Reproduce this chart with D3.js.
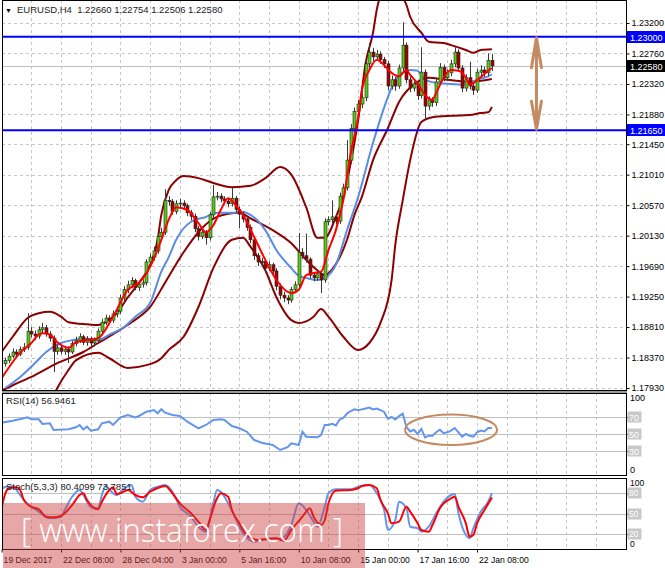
<!DOCTYPE html>
<html><head><meta charset="utf-8">
<script src="https://cdn.jsdelivr.net/npm/d3@7"></script>
<style>
html,body{margin:0;padding:0;background:#fff;}
svg{display:block;font-family:"Liberation Sans",Arial,sans-serif;}
</style></head><body>
<svg id="c" width="665" height="568"></svg>
<script>
// ---------- DATA ----------
const symbolTitle = "EURUSD,H4  1.22660 1.22754 1.22506 1.22580";
const rsiTitle = "RSI(14) 56.9461";
const stochTitle = "Stoch(5,3,3) 80.4099 73.7851";
const firstBar = 1; // candles occupy bar slots 1..132
const opens = [1.1828,1.1833,1.1839,1.1845,1.1842,1.1849,1.1852,1.1875,1.1871,1.1868,
1.1877,1.1880,1.1871,1.1865,1.1846,1.1851,1.1846,1.1849,1.1845,1.1857,
1.1862,1.1867,1.1859,1.1864,1.1858,1.1862,1.1875,1.1888,1.1894,1.1891,
1.1900,1.1904,1.1923,1.1935,1.1942,1.1948,1.1938,1.1943,1.1945,1.1975,
1.1982,1.1991,1.2012,1.2018,1.2064,1.2062,1.2048,1.2059,1.2060,1.2056,
1.2046,1.2041,1.2023,1.2012,1.2018,1.2010,1.2043,1.2069,1.2070,1.2066,
1.2063,1.2059,1.2067,1.2051,1.2044,1.2037,1.2025,1.2007,1.1984,1.1975,
1.1976,1.1966,1.1971,1.1962,1.1940,1.1927,1.1923,1.1920,1.1935,1.1942,
1.1989,1.1984,1.1979,1.1956,1.1952,1.1958,1.1949,1.2033,1.2036,1.2040,
1.2034,1.2070,1.2082,1.2122,1.2168,1.2192,1.2203,1.2212,1.2261,1.2278,
1.2271,1.2275,1.2267,1.2261,1.2229,1.2238,1.2229,1.2255,1.2288,1.2238,
1.2226,1.2232,1.2215,1.2249,1.2200,1.2209,1.2205,1.2235,1.2256,1.2241,
1.2248,1.2261,1.2278,1.2255,1.2226,1.2241,1.2229,1.2223,1.2249,1.2252,
1.2248,1.2266];
const highs = [1.1837,1.1843,1.1850,1.1849,1.1853,1.1858,1.1901,1.1881,1.1876,1.1882,
1.1887,1.1884,1.1875,1.1869,1.1856,1.1855,1.1854,1.1853,1.1861,1.1867,
1.1872,1.1870,1.1868,1.1867,1.1866,1.1879,1.1893,1.1899,1.1898,1.1905,
1.1909,1.1928,1.1940,1.1948,1.1953,1.1951,1.1947,1.1950,1.1979,1.1987,
1.1997,1.2017,1.2024,1.2080,1.2070,1.2066,1.2064,1.2066,1.2064,1.2059,
1.2050,1.2045,1.2027,1.2023,1.2021,1.2047,1.2086,1.2076,1.2074,1.2070,
1.2067,1.2082,1.2070,1.2055,1.2048,1.2041,1.2029,1.2011,1.1988,1.1981,
1.1979,1.1976,1.1974,1.1966,1.1944,1.1932,1.1927,1.1939,1.1947,1.2017,
1.1995,1.2016,1.1982,1.1960,1.1963,1.1961,1.2038,1.2041,1.2064,1.2045,
1.2075,1.2088,1.2151,1.2174,1.2198,1.2209,1.2218,1.2266,1.2291,1.2284,
1.2281,1.2279,1.2271,1.2265,1.2244,1.2242,1.2260,1.2321,1.2292,1.2243,
1.2238,1.2236,1.2285,1.2253,1.2214,1.2213,1.2240,1.2262,1.2260,1.2253,
1.2267,1.2285,1.2282,1.2259,1.2246,1.2264,1.2233,1.2254,1.2259,1.2257,
1.2276,1.22754];
const lows = [1.1824,1.1829,1.1836,1.1837,1.1839,1.1845,1.1848,1.1866,1.1862,1.1864,
1.1872,1.1867,1.1860,1.1816,1.1841,1.1842,1.1841,1.1829,1.1842,1.1853,
1.1858,1.1855,1.1854,1.1853,1.1853,1.1859,1.1871,1.1884,1.1886,1.1887,
1.1895,1.1900,1.1919,1.1930,1.1937,1.1934,1.1933,1.1938,1.1941,1.1970,
1.1977,1.1987,1.2007,1.2014,1.2056,1.2043,1.2044,1.2054,1.2051,1.2041,
1.2035,1.2018,1.2006,1.2008,1.2000,1.2006,1.2039,1.2064,1.2061,1.2058,
1.2054,1.2055,1.2046,1.2024,1.2032,1.2020,1.2002,1.1978,1.1969,1.1969,
1.1961,1.1962,1.1957,1.1934,1.1921,1.1917,1.1914,1.1916,1.1930,1.1938,
1.1979,1.1974,1.1951,1.1947,1.1948,1.1930,1.1945,1.2028,1.2031,1.2029,
1.2030,1.2065,1.2078,1.2117,1.2162,1.2186,1.2197,1.2207,1.2255,1.2265,
1.2266,1.2261,1.2255,1.2223,1.2224,1.2222,1.2225,1.2250,1.2233,1.2220,
1.2221,1.2209,1.2211,1.2180,1.2194,1.2199,1.2200,1.2230,1.2236,1.2236,
1.2243,1.2256,1.2250,1.2220,1.2221,1.2224,1.2216,1.2219,1.2243,1.2242,
1.2243,1.22506];
const closes = [1.1833,1.1839,1.1845,1.1842,1.1849,1.1852,1.1875,1.1871,1.1868,1.1877,
1.1880,1.1871,1.1865,1.1846,1.1851,1.1846,1.1849,1.1845,1.1857,1.1862,
1.1867,1.1859,1.1864,1.1858,1.1862,1.1875,1.1888,1.1894,1.1891,1.1900,
1.1904,1.1923,1.1935,1.1942,1.1948,1.1938,1.1943,1.1945,1.1975,1.1982,
1.1991,1.2012,1.2018,1.2064,1.2062,1.2048,1.2059,1.2060,1.2056,1.2046,
1.2041,1.2023,1.2012,1.2018,1.2010,1.2043,1.2069,1.2070,1.2066,1.2063,
1.2059,1.2067,1.2051,1.2044,1.2037,1.2025,1.2007,1.1984,1.1975,1.1976,
1.1966,1.1971,1.1962,1.1940,1.1927,1.1923,1.1920,1.1935,1.1942,1.1989,
1.1984,1.1979,1.1956,1.1952,1.1958,1.1949,1.2033,1.2036,1.2040,1.2034,
1.2070,1.2082,1.2122,1.2168,1.2192,1.2203,1.2212,1.2261,1.2278,1.2271,
1.2275,1.2267,1.2261,1.2229,1.2238,1.2229,1.2255,1.2288,1.2238,1.2226,
1.2232,1.2215,1.2249,1.2200,1.2209,1.2205,1.2235,1.2256,1.2241,1.2248,
1.2261,1.2278,1.2255,1.2226,1.2241,1.2229,1.2223,1.2249,1.2252,1.2248,
1.2266,1.2258];

// indicator readings: [bar, value]
const fastMA = [[0,1.1807],[2,1.1823],[5,1.1844],[8,1.1858],[10,1.1870],[11,1.1872],[13,1.1870],[15,1.1859],[18,1.1851],[20,1.1859],[23,1.1862],[26,1.1865],[30,1.1896],[34,1.1935],[37,1.1945],[40,1.1968],[43,1.2007],[45,1.2036],[47,1.2054],[50,1.2050],[53,1.2031],[55,1.2018],[57,1.2028],[59,1.2050],[61,1.2067],[63,1.2057],[65,1.2043],[68,1.2011],[71,1.1978],[74,1.1949],[78,1.1930],[80,1.1935],[82,1.1956],[84,1.1959],[86,1.1961],[88,1.1992],[90,1.2021],[92,1.2064],[94,1.2132],[96,1.2184],[97,1.2223],[99,1.2252],[101,1.2267],[103,1.2259],[105,1.2248],[107,1.2243],[109,1.2252],[110,1.2245],[112,1.2233],[114,1.2216],[116,1.2209],[117,1.2219],[119,1.2241],[121,1.2252],[123,1.2251],[125,1.2241],[126,1.2231],[127,1.2233],[129,1.2242],[131,1.2251],[132,1.2255]];
const slowMA = [[1,1.1793],[5,1.1809],[9,1.1829],[12,1.1845],[16,1.1858],[19,1.1862],[23,1.1864],[26,1.1862],[29,1.1870],[33,1.1881],[36,1.1896],[40,1.1916],[43,1.1961],[45,1.1982],[47,1.2007],[51,1.2033],[55,1.2040],[58,1.2046],[62,1.2046],[65,1.2047],[67,1.2043],[71,1.2021],[74,1.1992],[78,1.1966],[80,1.1955],[82,1.1952],[85,1.1949],[87,1.1952],[90,1.1971],[93,1.2021],[96,1.2069],[100,1.2147],[104,1.2213],[106,1.2238],[110,1.2252],[112,1.2251],[114,1.2238],[118,1.2233],[121,1.2232],[124,1.2231],[126,1.2233],[128,1.2238],[131,1.2243],[132,1.2246]];
const bandUpper = [[0,1.1845],[3,1.1867],[7,1.1894],[10,1.1901],[13,1.1903],[16,1.1896],[18,1.1888],[23,1.1885],[26,1.1884],[28,1.1888],[31,1.1901],[34,1.1924],[37,1.1945],[40,1.1971],[42,1.2007],[43,1.2043],[45,1.2079],[47,1.2093],[49,1.2099],[53,1.2096],[57,1.2089],[62,1.2083],[67,1.2085],[71,1.2096],[75,1.2112],[78,1.2101],[82,1.2054],[85,1.2010],[87,1.2010],[90,1.2040],[92,1.2069],[94,1.2118],[96,1.2180],[98,1.2262],[100,1.2306],[101,1.2339],[103,1.2371],[105,1.2379],[107,1.2365],[109,1.2346],[110,1.2329],[113,1.2306],[115,1.2293],[119,1.2291],[121,1.2288],[125,1.2281],[127,1.2277],[129,1.2281],[132,1.2282]];
const bandMiddle = [[0,1.1789],[3,1.1797],[8,1.1809],[15,1.1829],[22,1.1845],[26,1.1858],[31,1.1874],[35,1.1888],[40,1.1910],[44,1.1945],[49,1.1989],[54,1.2024],[58,1.2040],[64,1.2046],[67,1.2038],[73,1.2021],[78,1.2002],[82,1.1978],[85,1.1963],[87,1.1956],[90,1.1972],[93,1.2007],[95,1.2043],[97,1.2069],[100,1.2122],[104,1.2168],[107,1.2206],[112,1.2235],[115,1.2241],[120,1.2238],[126,1.2235],[132,1.2239]];
const bandLower = [[12,1.1758],[15,1.1793],[18,1.1819],[20,1.1833],[26,1.1844],[29,1.1836],[34,1.1822],[39,1.1826],[43,1.1836],[45,1.1848],[49,1.1867],[53,1.1910],[57,1.1966],[62,1.2007],[65,1.2010],[67,1.1997],[71,1.1963],[74,1.1924],[78,1.1891],[80,1.1887],[84,1.1896],[86,1.1907],[88,1.1896],[92,1.1867],[96,1.1848],[99,1.1858],[102,1.1887],[105,1.1949],[106,1.2000],[108,1.2064],[110,1.2122],[113,1.2177],[116,1.2184],[121,1.2186],[126,1.2187],[129,1.2190],[131,1.2191],[132,1.2199]];
const rsi = [[0,63.3],[3,65.6],[6,68.5],[7,69.6],[8,67.3],[10,67.3],[11,61.8],[13,62.6],[14,54.7],[18,55.5],[20,57.9],[21,60.6],[22,55.5],[23,58.6],[24,53.9],[26,55.5],[27,62.6],[29,64.5],[30,60.6],[32,69.6],[34,72.4],[36,69.6],[37,71.2],[39,76.2],[41,78.2],[42,74.4],[43,79.1],[44,75.1],[46,72.4],[48,71.2],[50,64.5],[53,56.7],[55,60.6],[57,66.5],[59,67.3],[60,66.5],[62,59.4],[64,56.7],[66,52.7],[68,42.9],[70,39.8],[73,37.1],[75,31.2],[77,34.4],[78,39.1],[80,37.1],[81,52.7],[82,46.8],[85,46.1],[86,48.8],[87,60.6],[88,60.6],[89,62],[90,60],[91,67],[92,69],[93,74],[94,77],[95,79],[96,78],[97,79],[98,80],[99,81],[100,79],[101,80],[102,78],[103,76],[104,68],[105,70],[106,67],[107,71],[108,74],[109,58],[110,53],[111,55],[112,50],[113,56],[114,46],[115,48],[116,48],[117,52],[118,55],[119,51],[120,52],[121,54],[122,57],[123,52],[124,47],[125,50],[126,48],[127,47],[128,52],[129,54],[130,53],[131,57],[132,56.9461]];
const stochK = [[0,85],[1,89.8],[3,89.8],[5,77.6],[7,64.3],[8,60.3],[10,52.9],[13,43.2],[16,45.6],[17,55.5],[19,75.1],[21,85],[22,77.6],[24,60.3],[26,58],[27,77.6],[28,90.9],[30,80.1],[31,77.6],[33,87.5],[35,92.3],[36,75.1],[38,67.7],[40,85],[42,89.8],[44,92.3],[46,82.4],[48,60.3],[51,45.6],[53,30.8],[55,23.5],[57,65.3],[58,85],[59,82.4],[61,65.3],[63,43.2],[65,21.1],[68,8.7],[70,11.2],[73,13.7],[75,12.2],[78,33.3],[80,65.3],[82,55.5],[84,38.2],[85,30.8],[87,60.3],[88,80.1],[90,86],[94,86],[96,89.8],[99,92.3],[101,80.1],[103,55.5],[104,26],[106,40.7],[107,67.7],[109,58],[110,30.8],[112,28.5],[113,23.5],[115,30.8],[117,50.6],[119,67.7],[121,77.6],[122,79.1],[123,50.6],[125,18.6],[126,13.7],[127,28.5],[129,52.9],[131,67.7],[132,80.4099]];
const stochD = [[0,58],[1,80],[2,87.5],[4,88.9],[5,85],[6,70],[8,60],[10,56.5],[12,45.6],[14,44.7],[16,46.6],[17,50.6],[19,62.8],[21,77.6],[22,80.1],[23,70.2],[25,58],[26,56.5],[27,67.7],[29,85],[30,88.9],[31,79.1],[32,80.1],[34,85],[36,77.6],[38,74.2],[40,82.4],[43,89.8],[44,90.9],[46,80.1],[48,65.3],[51,50.6],[53,38.2],[55,26],[56,40.7],[58,72.7],[59,80.1],[61,75.1],[62,55.5],[64,35.8],[66,18.6],[69,11.2],[71,12.2],[74,13.7],[76,10.2],[78,26],[81,45.6],[83,58],[84,45.6],[86,33.3],[87,40.7],[88,65.3],[90,83.9],[94,85],[96,87.5],[97,90.9],[99,92.3],[101,87.5],[102,70.2],[104,50.6],[105,35.8],[107,38.2],[109,60.3],[110,53],[112,35.8],[113,26],[115,23.5],[116,33.3],[118,58],[121,72.7],[122,75.1],[123,60.3],[125,35.8],[126,16.1],[127,18.6],[128,35.8],[130,55.5],[132,73.7851]];

const priceTicks = [1.23200,1.22760,1.22320,1.21880,1.21450,1.21010,1.20570,1.20130,1.19690,1.19250,1.18810,1.18370,1.17930];
const levelLines = [1.23000,1.21650];
const bidPrice = 1.22580;
const rsiLevels = [70,50,30];
const stochLevels = [80,50,20];
const dateBars = [0,16,32,48,64,80,96,112,128];
const dateLabels = ["19 Dec 2017","22 Dec 08:00","28 Dec 04:00","3 Jan 00:00","5 Jan 16:00","10 Jan 08:00","15 Jan 00:00","17 Jan 16:00","22 Jan 08:00"];
const gridBars = [8,16,24,32,40,48,56,64,72,80,88,96,104,112,120,128,136,144,152,160];
// annotations (data space)
const arrowBar = 144;
const ellipseCenter = [121, 55];
const ellipseHalf = [12.4, 18];
const watermark = "[ www.instaforex.com ]";

// ---------- LAYOUT ----------
const svg = d3.select('#c');
const L = 2, R = 626;
const main = {top:0, bottom:390};
const rsiP = {top:393, bottom:475};
const stP = {top:478, bottom:549};

const x = d3.scaleLinear().domain([0,168]).range([1.6, 625.6]);
const yP = d3.scaleLinear().domain([1.17887,1.23503]).range([391,2]);
const yR = d3.scaleLinear().domain([0,100]).range([476.5,391.5]);
const yS = d3.scaleLinear().domain([0,100]).range([547.6,479.8]);

const defs = svg.append('defs');
function clip(id,p){ defs.append('clipPath').attr('id',id).append('rect').attr('x',L).attr('y',p.top).attr('width',R-L).attr('height',p.bottom-p.top); }
clip('cm',main); clip('cr',rsiP); clip('cs',stP);

const gridCol = '#c6c6c6';
function vgrid(p){
  svg.append('g').selectAll('line').data(gridBars).join('line')
    .attr('x1',d=>Math.round(x(d))+0.5).attr('x2',d=>Math.round(x(d))+0.5)
    .attr('y1',p.top).attr('y2',p.bottom)
    .attr('stroke',gridCol).attr('stroke-dasharray','3,3').attr('stroke-width',1);
}
vgrid(main); vgrid(rsiP); vgrid(stP);

// main horizontal grid
svg.append('g').selectAll('line').data(priceTicks).join('line')
  .attr('x1',L).attr('x2',R).attr('y1',d=>Math.round(yP(d))+0.5).attr('y2',d=>Math.round(yP(d))+0.5)
  .attr('stroke',gridCol).attr('stroke-dasharray','3,3');

// bid line
svg.append('line').attr('x1',L).attr('x2',R).attr('y1',Math.round(yP(bidPrice))+0.5).attr('y2',Math.round(yP(bidPrice))+0.5)
  .attr('stroke','#c0c0c0');

// RSI / stoch level lines
svg.append('g').selectAll('line').data(rsiLevels).join('line')
  .attr('x1',L).attr('x2',R).attr('y1',d=>Math.round(yR(d))+0.5).attr('y2',d=>Math.round(yR(d))+0.5).attr('stroke','#c0c0c0');
svg.append('g').selectAll('line').data(stochLevels).join('line')
  .attr('x1',L).attr('x2',R).attr('y1',d=>Math.round(yS(d))+0.5).attr('y2',d=>Math.round(yS(d))+0.5).attr('stroke','#c0c0c0');

// ---------- MAIN PANEL ----------
const gm = svg.append('g').attr('clip-path','url(#cm)');
const lineP = d3.line().x(d=>x(d[0])).y(d=>yP(d[1])).curve(d3.curveMonotoneX);
const bandCol = '#8b0000';
[bandUpper,bandMiddle,bandLower].forEach(s=>{
  gm.append('path').attr('d',lineP(s)).attr('fill','none').attr('stroke',bandCol).attr('stroke-width',2);
});
gm.append('path').attr('d',lineP(slowMA)).attr('fill','none').attr('stroke','#5a8ce6').attr('stroke-width',2);

// candles
const candles = closes.map((c,i)=>({bar:i+firstBar,o:opens[i],h:highs[i],l:lows[i],c:c}));
const gc = gm.append('g');
gc.selectAll('line').data(candles).join('line')
  .attr('x1',d=>Math.round(x(d.bar))+0.5).attr('x2',d=>Math.round(x(d.bar))+0.5)
  .attr('y1',d=>yP(d.h)).attr('y2',d=>yP(d.l)).attr('stroke','#3a3a3a').attr('stroke-width',1);
gc.selectAll('rect').data(candles).join('rect')
  .attr('x',d=>Math.round(x(d.bar))-1).attr('width',3)
  .attr('y',d=>yP(Math.max(d.o,d.c)))
  .attr('height',d=>Math.max(1,Math.abs(yP(d.o)-yP(d.c))))
  .attr('fill',d=>d.c>=d.o?'#55cc11':'#a30000')
  .attr('stroke','#222').attr('stroke-width',0.6);

gm.append('path').attr('d',lineP(fastMA)).attr('fill','none').attr('stroke','#ff0000').attr('stroke-width',2);

// level lines
gm.append('g').selectAll('line').data(levelLines).join('line')
  .attr('x1',L).attr('x2',R).attr('y1',d=>yP(d)).attr('y2',d=>yP(d))
  .attr('stroke','#0000ff').attr('stroke-width',2);

// double arrow annotation
const annCol = '#c48a62';
const ax = x(arrowBar), yTop = yP(levelLines[0])+1, yBot = yP(levelLines[1])-1;
gm.append('path')
  .attr('d',`M${ax},${yTop+2}L${ax},${yBot-2}M${ax-5},${yTop+30}L${ax},${yTop}L${ax+5},${yTop+30}M${ax-5},${yBot-28}L${ax},${yBot}L${ax+5},${yBot-28}`)
  .attr('fill','none').attr('stroke',annCol).attr('stroke-width',3).attr('stroke-linecap','round').attr('stroke-linejoin','round');

// ---------- RSI PANEL ----------
const gr = svg.append('g').attr('clip-path','url(#cr)');
const lineR = d3.line().x(d=>x(d[0])).y(d=>yR(d[1]));
gr.append('path').attr('d',lineR(rsi)).attr('fill','none').attr('stroke','#6495ed').attr('stroke-width',2);
gr.append('ellipse')
  .attr('cx',x(ellipseCenter[0])).attr('cy',yR(ellipseCenter[1]))
  .attr('rx',x(ellipseCenter[0]+ellipseHalf[0])-x(ellipseCenter[0]))
  .attr('ry',yR(ellipseCenter[1]-ellipseHalf[1])-yR(ellipseCenter[1]))
  .attr('fill','none').attr('stroke',annCol).attr('stroke-width',2);

// ---------- STOCH PANEL ----------
const gs = svg.append('g').attr('clip-path','url(#cs)');
const lineS = d3.line().x(d=>x(d[0])).y(d=>yS(d[1])).curve(d3.curveMonotoneX);
gs.append('path').attr('d',lineS(stochK)).attr('fill','none').attr('stroke','#6495ed').attr('stroke-width',2);
gs.append('path').attr('d',lineS(stochD)).attr('fill','none').attr('stroke','#ff0000').attr('stroke-width',2);

// ---------- FRAMES ----------
[main,rsiP,stP].forEach(p=>{
  svg.append('rect').attr('x',L+0.5).attr('y',p.top+0.5).attr('width',R-L).attr('height',p.bottom-p.top)
    .attr('fill','none').attr('stroke','#000').attr('stroke-width',1);
});
svg.append('rect').attr('x',L).attr('y',main.bottom+1).attr('width',R-L+1).attr('height',rsiP.top-main.bottom-1).attr('fill','#9a9a9a');

// ---------- AXES ----------
const fs = '9px';
const pAxis = d3.axisRight(yP).tickValues(priceTicks).tickFormat(d3.format('.5f')).tickSize(3).tickPadding(2);
const gpa = svg.append('g').attr('transform',`translate(${R+0.5},0)`).call(pAxis);
gpa.select('.domain').remove();
gpa.selectAll('text').attr('font-size',fs).attr('fill','#000').attr('font-family','Liberation Sans, Arial, sans-serif');

function boxLabel(yv,text,bg,fg,w){
  const g = svg.append('g');
  g.append('rect').attr('x',R+1).attr('y',Math.round(yv)-6).attr('width',w).attr('height',12).attr('fill',bg);
  g.append('text').attr('x',R+4).attr('y',Math.round(yv)+3.5).attr('font-size',fs).attr('fill',fg).text(text);
}
levelLines.forEach(v=>boxLabel(yP(v),d3.format('.5f')(v),'#0000ff','#fff',39));
boxLabel(yP(bidPrice),d3.format('.5f')(bidPrice),'#000','#fff',39);

// RSI axis
const rAxis = d3.axisRight(yR).tickValues(rsiLevels).tickSize(3).tickFormat(d=>'');
svg.append('g').attr('transform',`translate(${R+0.5},0)`).call(rAxis).select('.domain').remove();
rsiLevels.forEach(v=>{
  svg.append('rect').attr('x',R+1.5).attr('y',Math.round(yR(v))-5.5).attr('width',14).attr('height',11).attr('fill','#c8c8c8');
  svg.append('text').attr('x',R+3).attr('y',Math.round(yR(v))+3.5).attr('font-size',fs).attr('fill','#fff').text(v);
});
svg.append('text').attr('x',R+4).attr('y',yR(100)+9).attr('font-size',fs).text('100');
svg.append('text').attr('x',R+4).attr('y',yR(0)-4).attr('font-size',fs).text('0');

// Stoch axis
const sAxis = d3.axisRight(yS).tickValues(stochLevels).tickSize(3).tickFormat(d=>'');
svg.append('g').attr('transform',`translate(${R+0.5},0)`).call(sAxis).select('.domain').remove();
stochLevels.forEach(v=>{
  svg.append('rect').attr('x',R+1.5).attr('y',Math.round(yS(v))-5.5).attr('width',14).attr('height',11).attr('fill','#c8c8c8');
  svg.append('text').attr('x',R+3).attr('y',Math.round(yS(v))+3).attr('font-size','8.5px').attr('fill','#fff').text(v);
});
svg.append('text').attr('x',R+4).attr('y',yS(100)+6.5).attr('font-size','8.5px').text('100');
svg.append('text').attr('x',R+4).attr('y',yS(0)-0.5).attr('font-size','8.5px').text('0');

// time axis
const tAxis = d3.axisBottom(x).tickValues(dateBars).tickFormat((d,i)=>dateLabels[i]).tickSize(3).tickPadding(4);
const gta = svg.append('g').attr('transform',`translate(0,${stP.bottom+0.5})`).call(tAxis);
gta.select('.domain').remove();
gta.selectAll('text').attr('text-anchor','start').attr('dx','1.5').attr('font-size','8.6px').attr('fill','#000').attr('font-family','Liberation Sans, Arial, sans-serif');

// titles
svg.append('text').attr('x',5).attr('y',13).attr('font-size','7px').text('▼');
svg.append('text').attr('x',17).attr('y',13).attr('font-size','9.5px').attr('fill','#222').style('white-space','pre').text(symbolTitle);
svg.append('text').attr('x',6).attr('y',rsiP.top+11).attr('font-size','9.5px').attr('fill','#222').text(rsiTitle);
svg.append('text').attr('x',6).attr('y',stP.top+12).attr('font-size','9.5px').attr('fill','#222').text(stochTitle);

// watermark
svg.append('rect').attr('x',3).attr('y',503).attr('width',362).attr('height',65).attr('fill','rgba(205,60,60,0.45)');
svg.append('text').attr('x',21).attr('y',542).attr('font-family','"Open Sans", sans-serif').attr('font-weight',300)
  .attr('font-size','33px').attr('fill','#fff').attr('textLength',322).attr('lengthAdjust','spacingAndGlyphs').style('white-space','pre').text(watermark);
</script>
</body></html>
